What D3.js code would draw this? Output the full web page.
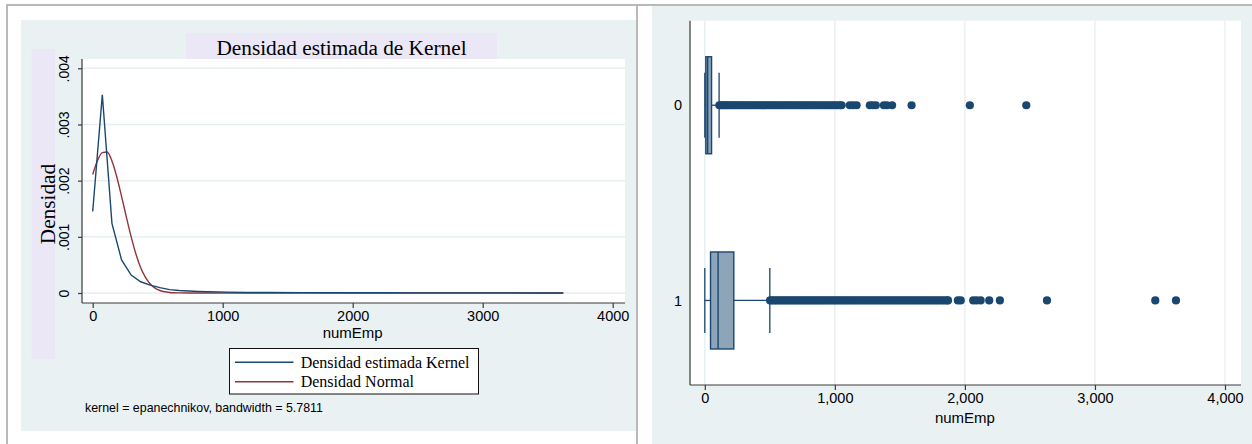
<!DOCTYPE html>
<html>
<head>
<meta charset="utf-8">
<script src="https://cdn.jsdelivr.net/npm/d3@7"></script>
<style>
  html, body { margin: 0; padding: 0; background: #ffffff; }
  svg { display: block; }
  .sans { font-family: "Liberation Sans", Arial, sans-serif; }
  .serif { font-family: "Liberation Serif", "Times New Roman", serif; }
</style>
</head>
<body>
<svg id="chart" width="1252" height="444"></svg>
<script>
// ---- Kernel density panel ----
const kdX = [0, 74, 148, 222, 296, 369, 443, 517, 591, 665, 739, 813, 887, 1034, 1182, 1330, 1625, 1921, 2217, 2512, 2808, 3103, 3399, 3620];
const kdY = [0.00145, 0.00353, 0.00124, 0.00059, 0.00032, 0.00020, 0.00014, 0.000095, 0.00006, 0.000045, 0.000035, 0.000028, 0.000022, 0.000015, 0.00001, 0.000008, 0.000006, 0.000005, 0.000004, 0.000003, 0.000002, 0.000002, 0.000001, 0.000001];
const normX = [0, 37, 74, 111, 148, 185, 222, 259, 296, 333, 369, 406, 443, 480, 517, 554, 591, 628, 665, 739, 1000, 2000, 3000, 3620];
const normY = [0.00211, 0.00236, 0.00250, 0.00251, 0.00235, 0.00207, 0.00172, 0.00135, 0.00100, 0.00069, 0.00045, 0.00028, 0.00016, 0.000087, 0.000045, 0.000022, 0.00001, 0.000004, 0.000002, 0, 0, 0, 0, 0];
const densityTicks = [0, 0.001, 0.002, 0.003, 0.004];
const densityTickLabels = ["0", ".001", ".002", ".003", ".004"];
const empTicks = [0, 1000, 2000, 3000, 4000];
const legendLabels = ["Densidad estimada Kernel", "Densidad Normal"];

// ---- Box plot panel ----
const groups = ["0", "1"];
const boxQ1 = [8, 44];
const boxMedian = [22, 102];
const boxQ3 = [52, 223];
const whiskerLow = [0, 0];
const whiskerHigh = [110, 500];
const outliers0 = [112, 125, 138, 150, 163, 177, 190, 204, 219, 233, 248, 262, 277, 291, 306, 320, 335, 351, 366, 380,
  396, 411, 427, 442, 458, 473, 489, 505, 520, 536, 552, 568, 584, 600, 616, 632, 649, 665, 681, 698,
  714, 731, 748, 765, 781, 798, 815, 832, 849, 866, 883, 900, 918, 935, 952, 970, 987, 1005, 1022, 1040,
  1052, 1115, 1140, 1167, 1269, 1290, 1315, 1377, 1400, 1440, 1590, 2038, 2472];
const outliers1 = [502, 518, 534, 551, 567, 584, 600, 617, 633, 650, 667, 683, 700, 716, 733, 750, 766, 783, 800, 816,
  833, 850, 867, 884, 900, 917, 934, 951, 968, 985, 1002, 1019, 1036, 1053, 1070, 1088, 1105, 1122, 1140, 1157,
  1174, 1192, 1209, 1227, 1244, 1262, 1279, 1297, 1315, 1332, 1350, 1368, 1386, 1404, 1421, 1439, 1457, 1475, 1493, 1511,
  1530, 1548, 1566, 1584, 1603, 1621, 1639, 1658, 1676, 1695, 1713, 1732, 1750, 1769, 1787, 1806, 1825, 1843, 1862, 1870,
  1946, 1968, 2064, 2090, 2121, 2187, 2269, 2631, 3464, 3623];
const outlierSets = [outliers0, outliers1];
const commaTickLabels = ["0", "1,000", "2,000", "3,000", "4,000"];

const navy = "#1a476f";
const maroon = "#90353b";
const regionBg = "#eaf1f3";
const lavender = "#ebe7f6";
const gridColor = "#e6eef1";
const axisColor = "#3a3a3a";

const svg = d3.select("#chart");

// page frame lines
svg.append("rect").attr("x", 6).attr("y", 4).attr("width", 1246).attr("height", 2).attr("fill", "#b9b9b9");
svg.append("rect").attr("x", 6).attr("y", 4).attr("width", 2).attr("height", 440).attr("fill", "#b9b9b9");
svg.append("rect").attr("x", 636).attr("y", 4).attr("width", 2).attr("height", 440).attr("fill", "#b9b9b9");

// ================= Left: kernel density =================
const L = svg.append("g");
L.append("rect").attr("x", 21).attr("y", 20).attr("width", 615).attr("height", 411).attr("fill", regionBg);
// title and y-title backgrounds
L.append("rect").attr("x", 186).attr("y", 33).attr("width", 311).attr("height", 26).attr("fill", lavender);
L.append("rect").attr("x", 31.5).attr("y", 49).attr("width", 23.5).attr("height", 310).attr("fill", lavender);

const xL = d3.scaleLinear().domain([0, 4000]).range([92.7, 612.7]);
const yL = d3.scaleLinear().domain([0, 0.004]).range([293, 68.3]);
const plotL = { x0: 82, x1: 625, y0: 59, y1: 303 };

L.append("rect").attr("x", plotL.x0).attr("y", plotL.y0)
  .attr("width", plotL.x1 - plotL.x0).attr("height", plotL.y1 - plotL.y0).attr("fill", "#ffffff");

// horizontal grid
L.append("g").selectAll("line").data(densityTicks).join("line")
  .attr("x1", plotL.x0).attr("x2", plotL.x1)
  .attr("y1", d => yL(d)).attr("y2", d => yL(d))
  .attr("stroke", gridColor).attr("stroke-width", 1.5);

L.append("text").attr("class", "serif").attr("x", 341.5).attr("y", 55)
  .attr("text-anchor", "middle").attr("font-size", 21.3).attr("fill", "#000")
  .text("Densidad estimada de Kernel");

// y axis with rotated tick labels
const yAxisL = d3.axisLeft(yL).tickValues(densityTicks).tickSize(4)
  .tickFormat((d, i) => densityTickLabels[i]);
const gyL = L.append("g").attr("transform", `translate(${plotL.x0},0)`).call(yAxisL);
gyL.select(".domain").attr("d", `M0,${plotL.y0}V${plotL.y1}`).attr("stroke", axisColor).attr("stroke-width", 1.2);
gyL.selectAll(".tick line").attr("stroke", axisColor).attr("stroke-width", 1.2);
gyL.selectAll(".tick text")
  .attr("class", "sans").attr("font-size", 14).attr("fill", "#000")
  .attr("x", null).attr("y", null).attr("dy", null)
  .attr("text-anchor", "middle")
  .attr("transform", "translate(-13.5,0) rotate(-90)");

L.append("text").attr("class", "serif").attr("font-size", 21.3).attr("fill", "#000")
  .attr("text-anchor", "middle")
  .attr("transform", "translate(55,204) rotate(-90)")
  .text("Densidad");

// x axis
const xAxisL = d3.axisBottom(xL).tickValues(empTicks).tickSize(5).tickFormat(d3.format("d"));
const gxL = L.append("g").attr("transform", `translate(0,${plotL.y1})`).call(xAxisL);
gxL.select(".domain").attr("d", `M${plotL.x0},0H${plotL.x1}`).attr("stroke", axisColor).attr("stroke-width", 1.2);
gxL.selectAll(".tick line").attr("stroke", axisColor).attr("stroke-width", 1.2);
gxL.selectAll(".tick text").attr("class", "sans").attr("font-size", 14.5).attr("fill", "#000").attr("y", 8);

L.append("text").attr("class", "sans").attr("x", xL(2000)).attr("y", 338)
  .attr("text-anchor", "middle").attr("font-size", 15).attr("fill", "#000").text("numEmp");

// curves
const kdData = kdX.map((x, i) => [x, kdY[i]]);
const normData = normX.map((x, i) => [x, normY[i]]);
L.append("path").datum(normData)
  .attr("fill", "none").attr("stroke", maroon).attr("stroke-width", 1.4)
  .attr("d", d3.line().x(d => xL(d[0])).y(d => yL(d[1])).curve(d3.curveMonotoneX));
L.append("path").datum(kdData)
  .attr("fill", "none").attr("stroke", navy).attr("stroke-width", 1.4)
  .attr("d", d3.line().x(d => xL(d[0])).y(d => yL(d[1])));

// legend
const leg = L.append("g");
leg.append("rect").attr("x", 229.5).attr("y", 348.5).attr("width", 249).attr("height", 45.5)
  .attr("fill", "#ffffff").attr("stroke", "#111").attr("stroke-width", 1);
const legColors = [navy, maroon];
legendLabels.forEach((lab, i) => {
  const yy = 362.3 + i * 19.4;
  leg.append("line").attr("x1", 235).attr("x2", 293.5).attr("y1", yy).attr("y2", yy)
    .attr("stroke", legColors[i]).attr("stroke-width", 1.4);
  leg.append("text").attr("class", "serif").attr("x", 300.7).attr("y", yy + 5.5)
    .attr("font-size", 16).attr("fill", "#000").text(lab);
});

L.append("text").attr("class", "sans").attr("x", 85).attr("y", 411.5)
  .attr("font-size", 12.4).attr("fill", "#000").text("kernel = epanechnikov, bandwidth = 5.7811");

// ================= Right: box plot =================
const R = svg.append("g");
R.append("rect").attr("x", 652).attr("y", 6).attr("width", 600).attr("height", 438).attr("fill", regionBg);
const plotR = { x0: 690, x1: 1241, y0: 20.7, y1: 385 };
R.append("rect").attr("x", plotR.x0).attr("y", plotR.y0)
  .attr("width", plotR.x1 - plotR.x0).attr("height", plotR.y1 - plotR.y0).attr("fill", "#ffffff");

const xR = d3.scaleLinear().domain([0, 4000]).range([704.8, 1225]);
const yR = d3.scalePoint().domain(groups).range([plotR.y0, plotR.y1]).padding(0.433);

// vertical grid
R.append("g").selectAll("line").data(empTicks).join("line")
  .attr("x1", d => xR(d)).attr("x2", d => xR(d))
  .attr("y1", plotR.y0).attr("y2", plotR.y1)
  .attr("stroke", gridColor).attr("stroke-width", 1.3);

const xAxisR = d3.axisBottom(xR).tickValues(empTicks).tickSize(5)
  .tickFormat((d, i) => commaTickLabels[i]);
const gxR = R.append("g").attr("transform", `translate(0,${plotR.y1})`).call(xAxisR);
gxR.select(".domain").attr("d", `M${plotR.x0},0H${plotR.x1}`).attr("stroke", axisColor).attr("stroke-width", 1.2);
gxR.selectAll(".tick line").attr("stroke", axisColor).attr("stroke-width", 1.2);
gxR.selectAll(".tick text").attr("class", "sans").attr("font-size", 14.5).attr("fill", "#000").attr("y", 8);

R.append("text").attr("class", "sans").attr("x", xR(2000)).attr("y", 423)
  .attr("text-anchor", "middle").attr("font-size", 15).attr("fill", "#000").text("numEmp");

const yAxisR = d3.axisLeft(yR).tickSize(0).tickPadding(8);
const gyR = R.append("g").attr("transform", `translate(${plotR.x0},0)`).call(yAxisR);
gyR.select(".domain").attr("d", `M0,${plotR.y0}V${plotR.y1}`).attr("stroke", axisColor).attr("stroke-width", 1.2);
gyR.selectAll(".tick text").attr("class", "sans").attr("font-size", 14.5).attr("fill", "#000");

const boxHalf = 48.5;
const capHalf = 32.5;
groups.forEach((g, i) => {
  const cy = yR(g);
  const bg = R.append("g");
  // whiskers
  bg.append("line").attr("x1", xR(whiskerLow[i])).attr("x2", xR(boxQ1[i])).attr("y1", cy).attr("y2", cy)
    .attr("stroke", navy).attr("stroke-width", 1.3);
  bg.append("line").attr("x1", xR(boxQ3[i])).attr("x2", xR(whiskerHigh[i])).attr("y1", cy).attr("y2", cy)
    .attr("stroke", navy).attr("stroke-width", 1.3);
  [whiskerLow[i], whiskerHigh[i]].forEach(v => {
    bg.append("line").attr("x1", xR(v)).attr("x2", xR(v)).attr("y1", cy - capHalf).attr("y2", cy + capHalf)
      .attr("stroke", navy).attr("stroke-width", 1.3);
  });
  // box
  bg.append("rect").attr("x", xR(boxQ1[i])).attr("y", cy - boxHalf)
    .attr("width", xR(boxQ3[i]) - xR(boxQ1[i])).attr("height", boxHalf * 2)
    .attr("fill", "#8ea5b9").attr("stroke", navy).attr("stroke-width", 1.4);
  bg.append("line").attr("x1", xR(boxMedian[i])).attr("x2", xR(boxMedian[i]))
    .attr("y1", cy - boxHalf).attr("y2", cy + boxHalf)
    .attr("stroke", navy).attr("stroke-width", 1.4);
  // outside values
  bg.append("g").selectAll("circle").data(outlierSets[i]).join("circle")
    .attr("cx", d => xR(d)).attr("cy", cy).attr("r", 4.1).attr("fill", navy);
});
</script>
</body>
</html>
